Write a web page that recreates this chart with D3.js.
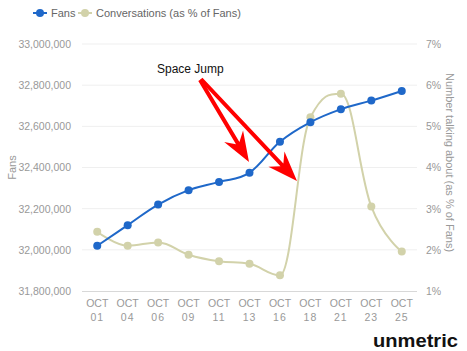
<!DOCTYPE html>
<html>
<head>
<meta charset="utf-8">
<script src="https://cdn.jsdelivr.net/npm/d3@7"></script>
<style>
  body { margin: 0; background: #fff; }
  text { font-family: "Liberation Sans", Arial, sans-serif; }
</style>
</head>
<body>
<svg id="chart"></svg>
<script>
const dates = ['01', '04', '06', '09', '11', '13', '16', '18', '21', '23', '25'];
const fans = [32020000, 32120000, 32220000, 32290000, 32330000, 32375000,
  32525000, 32620000, 32683000, 32725000, 32772000];
const conversations = [2.44, 2.10, 2.18, 1.88, 1.72, 1.66, 1.38, 5.22, 5.79, 3.05, 1.96];
const fanTicks = [31800000, 32000000, 32200000, 32400000, 32600000, 32800000, 33000000];
const pctTicks = [1, 2, 3, 4, 5, 6, 7];

const width = 467;
const height = 351;
const margin = { top: 44, right: 50, bottom: 60, left: 82 };

const BLUE = '#1f68c9';
const OLIVE = '#d2d2aa';

const svg = d3.select('#chart')
  .attr('width', width)
  .attr('height', height);

const x = d3.scalePoint()
  .domain(dates)
  .range([margin.left, width - margin.right])
  .padding(0.5);

const yFans = d3.scaleLinear()
  .domain([31800000, 33000000])
  .range([height - margin.bottom, margin.top]);

const yPct = d3.scaleLinear()
  .domain([1, 7])
  .range([height - margin.bottom, margin.top]);

// highcharts-like spline (smoothing 1.5, no false extremes)
const spline = (pts) => {
  const n = pts.length;
  const ctrl = pts.map(p => ({ lx: p[0], ly: p[1], rx: p[0], ry: p[1] }));
  for (let i = 1; i < n - 1; i++) {
    const [px, py] = pts[i];
    const [ax, ay] = pts[i - 1];
    const [bx, by] = pts[i + 1];
    const lx = (1.5 * px + ax) / 2.5;
    let ly = (1.5 * py + ay) / 2.5;
    const rx = (1.5 * px + bx) / 2.5;
    let ry = (1.5 * py + by) / 2.5;
    const corr = ((ry - ly) * (rx - px)) / (rx - lx) + py - ry;
    ly += corr;
    ry += corr;
    if (ly > ay && ly > py) { ly = Math.max(ay, py); ry = 2 * py - ly; }
    else if (ly < ay && ly < py) { ly = Math.min(ay, py); ry = 2 * py - ly; }
    if (ry > by && ry > py) { ry = Math.max(by, py); ly = 2 * py - ry; }
    else if (ry < by && ry < py) { ry = Math.min(by, py); ly = 2 * py - ry; }
    ctrl[i] = { lx, ly, rx, ry };
  }
  let d = `M${pts[0][0]},${pts[0][1]}`;
  for (let i = 1; i < n; i++) {
    d += `C${ctrl[i - 1].rx},${ctrl[i - 1].ry} ${ctrl[i].lx},${ctrl[i].ly} ${pts[i][0]},${pts[i][1]}`;
  }
  return d;
};

// grid
svg.append('g')
  .selectAll('line')
  .data(fanTicks.slice(1))
  .enter().append('line')
    .attr('x1', margin.left)
    .attr('x2', width - margin.right)
    .attr('y1', d => yFans(d))
    .attr('y2', d => yFans(d))
    .attr('stroke', '#efefef')
    .attr('stroke-width', 1);

svg.append('line')
  .attr('x1', margin.left)
  .attr('x2', width - margin.right)
  .attr('y1', yFans(31800000) + 0.5)
  .attr('y2', yFans(31800000) + 0.5)
  .attr('stroke', '#d8d8d8')
  .attr('stroke-width', 1);

// left axis
svg.append('g')
  .attr('transform', `translate(${margin.left - 8},0)`)
  .call(d3.axisLeft(yFans).tickValues(fanTicks).tickSize(0).tickFormat(d3.format(',')))
  .call(g => g.select('.domain').remove())
  .call(g => g.selectAll('text')
    .attr('fill', '#999')
    .attr('font-size', '10.5px')
    .attr('font-family', '"Liberation Sans", Arial, sans-serif')
    .attr('dx', 0));

// right axis
svg.append('g')
  .attr('transform', `translate(${width - margin.right + 6},0)`)
  .call(d3.axisRight(yPct).tickValues(pctTicks).tickSize(0).tickFormat(d => `${d}%`))
  .call(g => g.select('.domain').remove())
  .call(g => g.selectAll('text')
    .attr('fill', '#999')
    .attr('font-size', '10.5px')
    .attr('font-family', '"Liberation Sans", Arial, sans-serif'));

// x labels
const xl = svg.append('g')
  .selectAll('g')
  .data(dates)
  .enter().append('g')
    .attr('transform', d => `translate(${x(d)},0)`);
xl.append('text')
  .attr('y', 307)
  .attr('text-anchor', 'middle')
  .attr('fill', '#999')
  .attr('font-size', '10.5px')
  .text('OCT');
xl.append('text')
  .attr('y', 321)
  .attr('text-anchor', 'middle')
  .attr('fill', '#999')
  .attr('font-size', '10.5px')
  .attr('letter-spacing', '1px')
  .text(d => d);

// axis titles
svg.append('text')
  .attr('transform', `translate(16,${(margin.top + height - margin.bottom) / 2}) rotate(-90)`)
  .attr('text-anchor', 'middle')
  .attr('fill', '#999')
  .attr('font-size', '11px')
  .text('Fans');

svg.append('text')
  .attr('transform', `translate(446,${(margin.top + height - margin.bottom) / 2 - 5}) rotate(90)`)
  .attr('text-anchor', 'middle')
  .attr('fill', '#999')
  .attr('font-size', '11px')
  .text('Number talking about (as % of Fans)');

// series
const fanPts = dates.map((d, i) => [x(d), yFans(fans[i])]);
const convPts = dates.map((d, i) => [x(d), yPct(conversations[i])]);

svg.append('path')
  .attr('d', spline(convPts))
  .attr('fill', 'none')
  .attr('stroke', OLIVE)
  .attr('stroke-width', 2);

svg.append('g')
  .selectAll('circle')
  .data(convPts)
  .enter().append('circle')
    .attr('cx', d => d[0])
    .attr('cy', d => d[1])
    .attr('r', 4)
    .attr('fill', OLIVE);

svg.append('path')
  .attr('d', spline(fanPts))
  .attr('fill', 'none')
  .attr('stroke', BLUE)
  .attr('stroke-width', 2);

svg.append('g')
  .selectAll('circle')
  .data(fanPts)
  .enter().append('circle')
    .attr('cx', d => d[0])
    .attr('cy', d => d[1])
    .attr('r', 4)
    .attr('fill', BLUE);

// legend
const legend = [
  { name: 'Fans', color: BLUE, x: 33 },
  { name: 'Conversations (as % of Fans)', color: OLIVE, x: 78 },
];
const lg = svg.append('g')
  .selectAll('g')
  .data(legend)
  .enter().append('g')
    .attr('transform', d => `translate(${d.x},13)`);
lg.append('line')
  .attr('x1', 0).attr('x2', 14)
  .attr('stroke', d => d.color)
  .attr('stroke-width', 2);
lg.append('circle')
  .attr('cx', 7)
  .attr('r', 4)
  .attr('fill', d => d.color);
lg.append('text')
  .attr('x', 18)
  .attr('y', 4)
  .attr('fill', '#666')
  .attr('font-size', '11px')
  .text(d => d.name);

// annotation
svg.append('text')
  .attr('x', 157)
  .attr('y', 73)
  .attr('fill', '#111')
  .attr('font-size', '12px')
  .attr('font-family', 'Arial, "Liberation Sans", sans-serif')
  .text('Space Jump');

const arrow = (x0, y0, x1, y1) => {
  const dx = x1 - x0;
  const dy = y1 - y0;
  const len = Math.hypot(dx, dy);
  const ux = dx / len;
  const uy = dy / len;
  const nx = -uy;
  const ny = ux;
  const hl = 30;
  const hw = 11;
  const sw = 2;
  const notch = 8;
  const bx = x1 - ux * hl;
  const by = y1 - uy * hl;
  const mx = bx + ux * notch;
  const my = by + uy * notch;
  const p = [
    [x0 + nx * sw, y0 + ny * sw],
    [mx + nx * sw, my + ny * sw],
    [bx + nx * hw, by + ny * hw],
    [x1, y1],
    [bx - nx * hw, by - ny * hw],
    [mx - nx * sw, my - ny * sw],
    [x0 - nx * sw, y0 - ny * sw],
  ];
  return `M${p.map(q => q.join(',')).join('L')}Z`;
};

svg.append('path')
  .attr('d', arrow(200, 80, 249, 162))
  .attr('fill', '#f00');
svg.append('path')
  .attr('d', arrow(201, 79, 297, 181))
  .attr('fill', '#f00');

// watermark
svg.append('text')
  .attr('x', 373)
  .attr('y', 346.5)
  .attr('fill', '#111')
  .attr('font-size', '18px')
  .attr('font-weight', 'bold')
  .attr('font-family', '"DejaVu Sans", sans-serif')
  .attr('textLength', 85)
  .attr('lengthAdjust', 'spacingAndGlyphs')
  .text('unmetric');
</script>
</body>
</html>
